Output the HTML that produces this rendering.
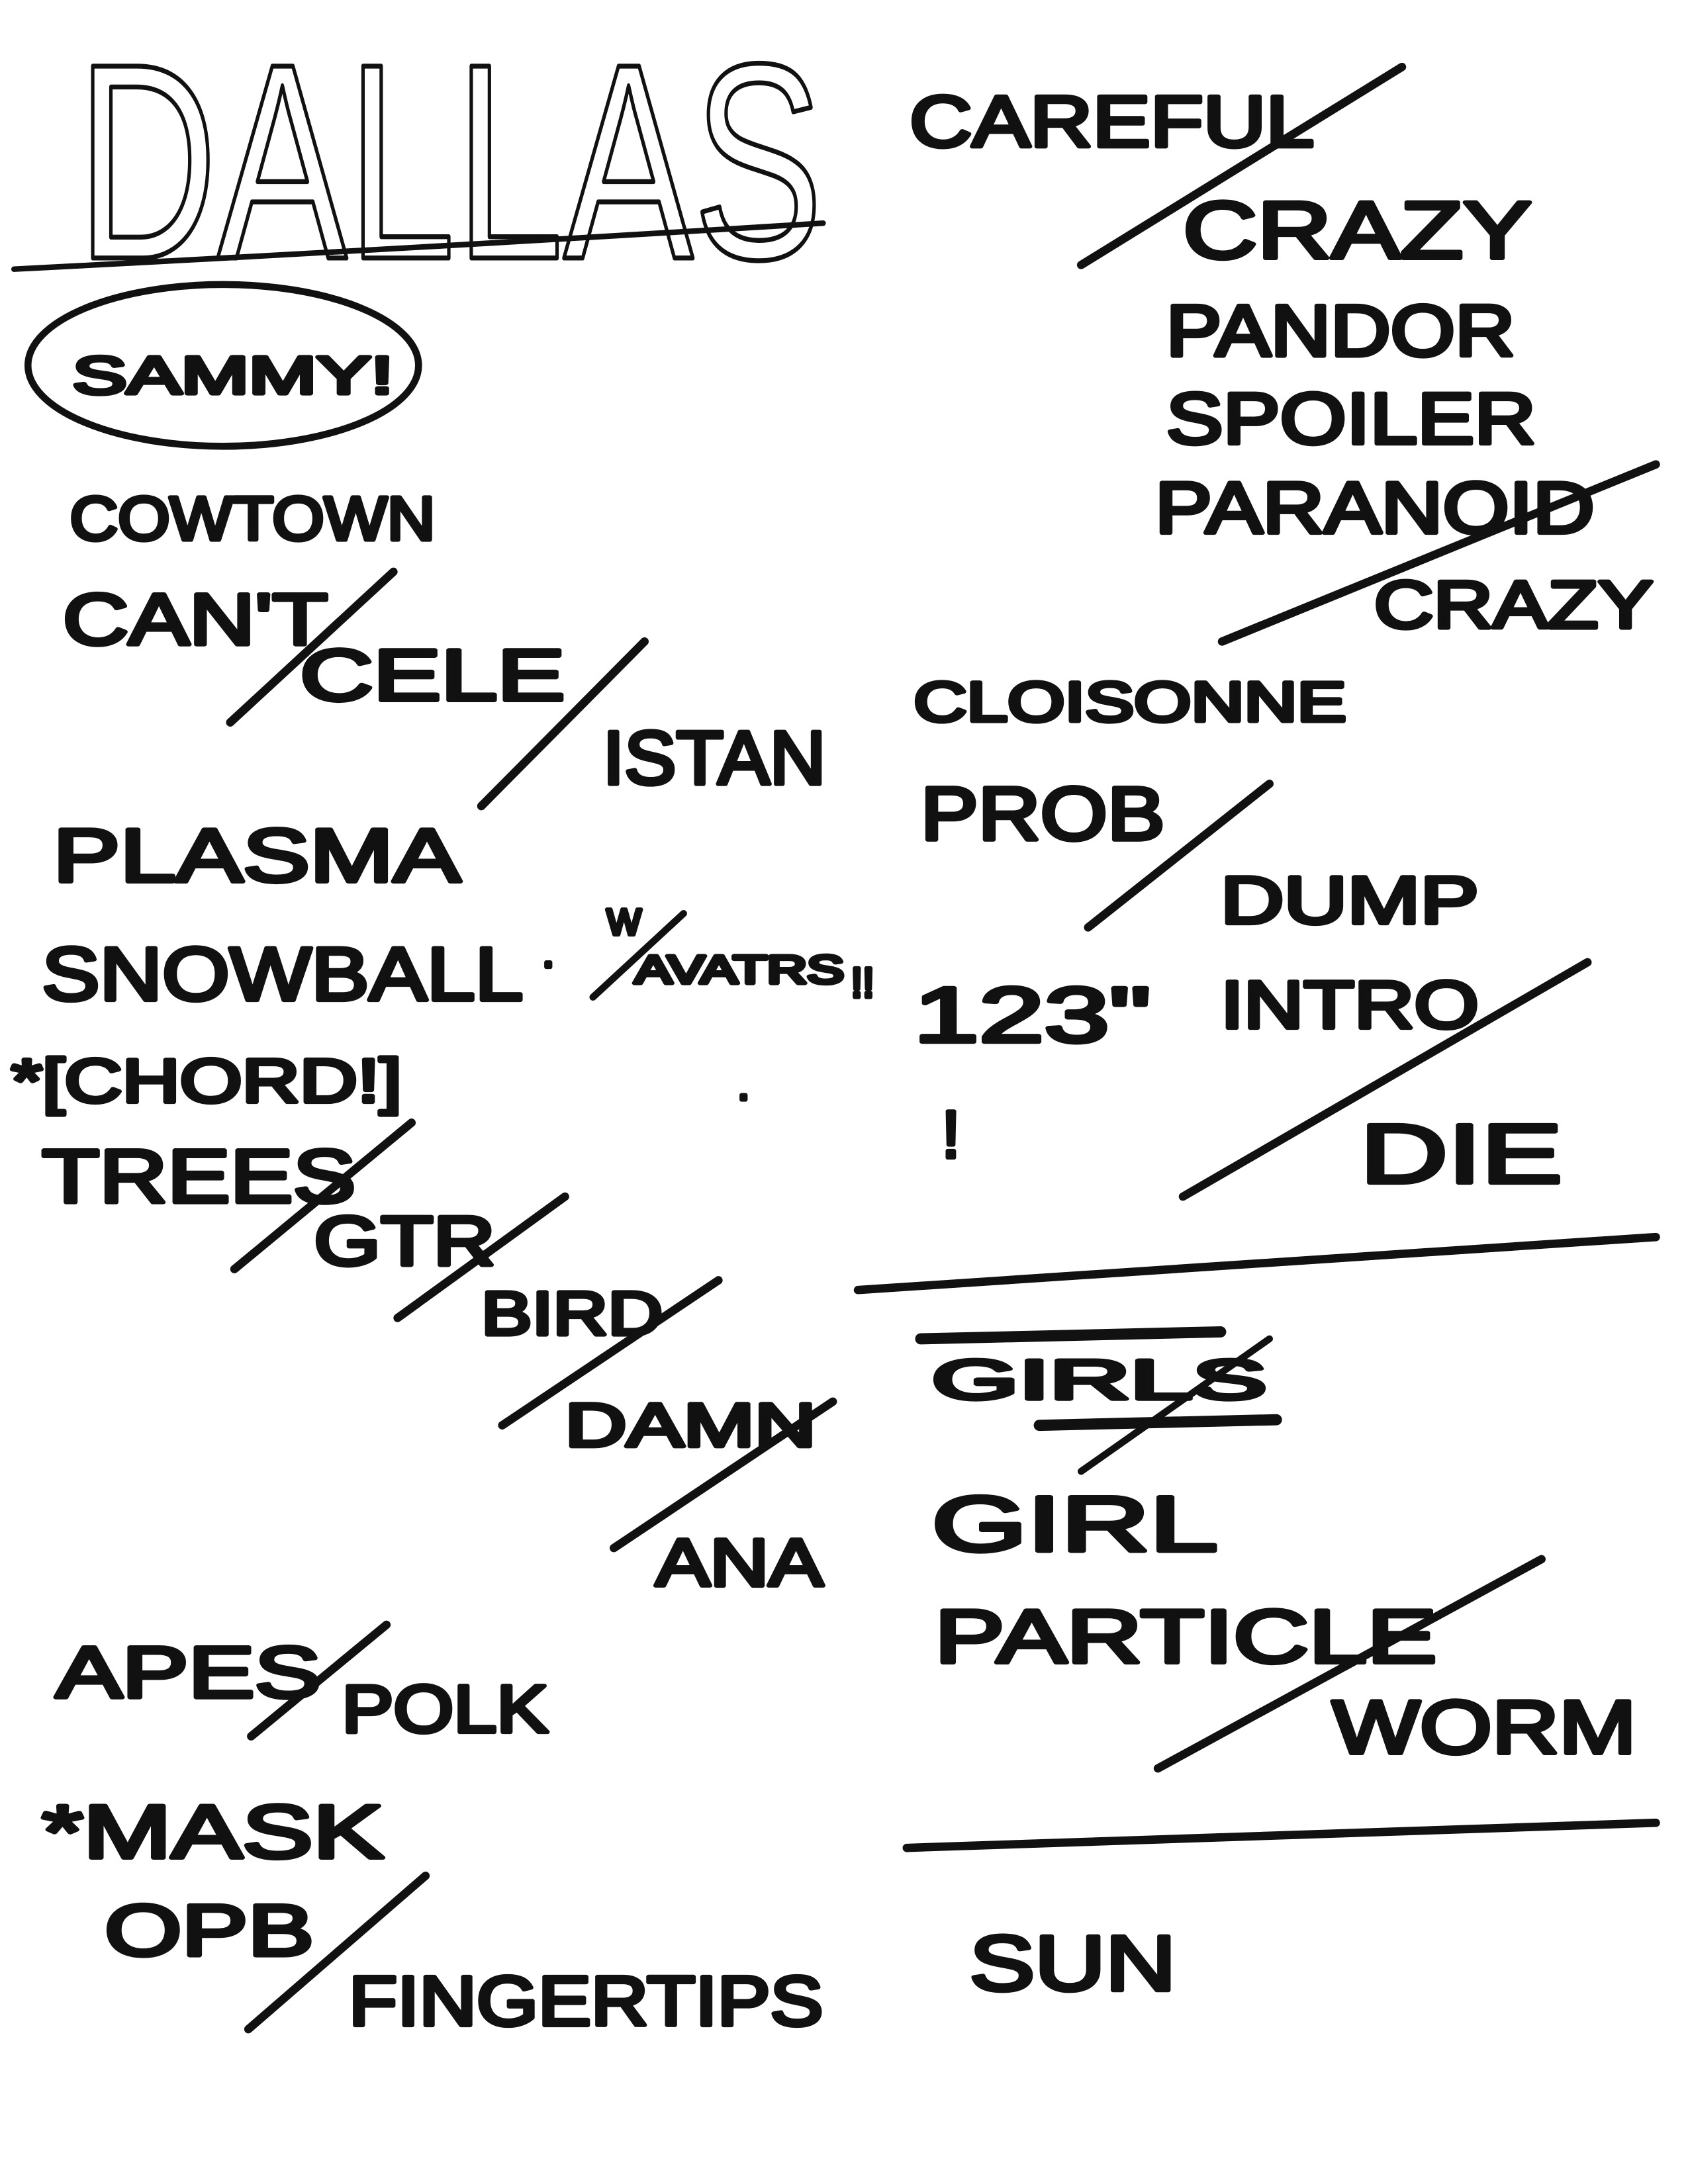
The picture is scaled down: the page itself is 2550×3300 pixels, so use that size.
<!DOCTYPE html>
<html><head><meta charset="utf-8">
<style>
html,body{margin:0;padding:0;background:#fff;}
svg{display:block;}
text{font-family:"Liberation Sans",sans-serif;font-weight:normal;fill:#111;stroke:#111;stroke-width:3;stroke-linejoin:round;}
line,path,ellipse{stroke:#111;stroke-linecap:round;fill:none;}
</style></head>
<body>
<svg width="2550" height="3300" viewBox="0 0 1210 1566" xmlns="http://www.w3.org/2000/svg">
<rect width="1210" height="1566" fill="#fff"/>
<text x="55" y="185" font-size="200" textLength="535" lengthAdjust="spacingAndGlyphs" style="fill:none;stroke-width:3.5">DALLAS</text>
<path d="M10 193 Q300 178 590 160" stroke-width="4"/>
<ellipse cx="160" cy="262" rx="140" ry="58" stroke-width="5"/>
<text x="52" y="282" font-size="38" textLength="230" lengthAdjust="spacingAndGlyphs">SAMMY!</text>

<text x="652" y="105" font-size="52" textLength="290" lengthAdjust="spacingAndGlyphs">CAREFUL</text>
<line x1="775" y1="190" x2="1005" y2="48" stroke-width="6"/>
<text x="848" y="185" font-size="58" textLength="250" lengthAdjust="spacingAndGlyphs">CRAZY</text>
<text x="836" y="255" font-size="52" textLength="250" lengthAdjust="spacingAndGlyphs">PANDOR</text>
<text x="836" y="318" font-size="52" textLength="265" lengthAdjust="spacingAndGlyphs">SPOILER</text>
<text x="828" y="382" font-size="52" textLength="315" lengthAdjust="spacingAndGlyphs">PARANOID</text>
<line x1="876" y1="460" x2="1187" y2="333" stroke-width="6"/>
<text x="985" y="450" font-size="48" textLength="200" lengthAdjust="spacingAndGlyphs">CRAZY</text>

<text x="50" y="387" font-size="44" textLength="262" lengthAdjust="spacingAndGlyphs">COWTOWN</text>
<text x="45" y="462" font-size="52" textLength="190" lengthAdjust="spacingAndGlyphs">CAN'T</text>
<line x1="165" y1="518" x2="282" y2="410" stroke-width="6"/>
<text x="215" y="502" font-size="52" textLength="190" lengthAdjust="spacingAndGlyphs">CELE</text>
<line x1="345" y1="578" x2="462" y2="460" stroke-width="6"/>
<text x="432" y="562" font-size="54" textLength="160" lengthAdjust="spacingAndGlyphs">ISTAN</text>
<text x="655" y="517" font-size="40" textLength="310" lengthAdjust="spacingAndGlyphs">CLOISONNE</text>
<text x="660" y="602" font-size="54" textLength="175" lengthAdjust="spacingAndGlyphs">PROB</text>
<line x1="780" y1="665" x2="910" y2="562" stroke-width="6"/>
<text x="875" y="662" font-size="48" textLength="185" lengthAdjust="spacingAndGlyphs">DUMP</text>

<text x="38" y="632" font-size="54" textLength="292" lengthAdjust="spacingAndGlyphs">PLASMA</text>
<text x="30" y="717" font-size="54" textLength="345" lengthAdjust="spacingAndGlyphs">SNOWBALL</text>
<text x="388" y="700" font-size="30">·</text>
<text x="435" y="670" font-size="26">W</text>
<line x1="425" y1="715" x2="490" y2="655" stroke-width="5"/>
<text x="455" y="705" font-size="28" textLength="150" lengthAdjust="spacingAndGlyphs">AVATRS</text>
<text x="610" y="715" font-size="30">!!</text>
<text x="655" y="747" font-size="56" textLength="170" lengthAdjust="spacingAndGlyphs">123"</text>
<text x="675" y="830" font-size="48">!</text>
<text x="875" y="737" font-size="48" textLength="185" lengthAdjust="spacingAndGlyphs">INTRO</text>
<line x1="848" y1="858" x2="1138" y2="690" stroke-width="6"/>
<text x="975" y="848" font-size="60" textLength="145" lengthAdjust="spacingAndGlyphs">DIE</text>
<text x="528" y="795" font-size="30">·</text>

<text x="8" y="790" font-size="44" textLength="280" lengthAdjust="spacingAndGlyphs">*[CHORD!]</text>
<text x="30" y="862" font-size="54" textLength="225" lengthAdjust="spacingAndGlyphs">TREES</text>
<line x1="168" y1="910" x2="295" y2="805" stroke-width="6"/>
<text x="225" y="907" font-size="50" textLength="130" lengthAdjust="spacingAndGlyphs">GTR</text>
<line x1="285" y1="945" x2="405" y2="858" stroke-width="6"/>
<text x="345" y="957" font-size="44" textLength="130" lengthAdjust="spacingAndGlyphs">BIRD</text>
<line x1="360" y1="1022" x2="515" y2="918" stroke-width="6"/>
<text x="405" y="1037" font-size="44" textLength="180" lengthAdjust="spacingAndGlyphs">DAMN</text>
<line x1="440" y1="1110" x2="597" y2="1005" stroke-width="6"/>
<text x="470" y="1137" font-size="48" textLength="120" lengthAdjust="spacingAndGlyphs">ANA</text>

<path d="M615 925 Q900 905 1187 887" stroke-width="6"/>
<text x="668" y="1003" font-size="40" textLength="240" lengthAdjust="spacingAndGlyphs">GIRLS</text>
<line x1="660" y1="960" x2="875" y2="955" stroke-width="8"/>
<line x1="745" y1="1022" x2="915" y2="1018" stroke-width="8"/>
<line x1="775" y1="1055" x2="910" y2="960" stroke-width="5"/>
<text x="668" y="1112" font-size="56" textLength="205" lengthAdjust="spacingAndGlyphs">GIRL</text>
<text x="670" y="1192" font-size="54" textLength="360" lengthAdjust="spacingAndGlyphs">PARTICLE</text>
<line x1="830" y1="1268" x2="1105" y2="1118" stroke-width="6"/>
<text x="955" y="1257" font-size="54" textLength="218" lengthAdjust="spacingAndGlyphs">WORM</text>
<path d="M650 1325 Q920 1315 1187 1307" stroke-width="6"/>
<text x="695" y="1427" font-size="56" textLength="148" lengthAdjust="spacingAndGlyphs">SUN</text>

<text x="40" y="1217" font-size="52" textLength="190" lengthAdjust="spacingAndGlyphs">APES</text>
<line x1="180" y1="1245" x2="277" y2="1165" stroke-width="6"/>
<text x="245" y="1242" font-size="48" textLength="148" lengthAdjust="spacingAndGlyphs">POLK</text>
<text x="30" y="1332" font-size="54" textLength="245" lengthAdjust="spacingAndGlyphs">*MASK</text>
<text x="75" y="1402" font-size="52" textLength="150" lengthAdjust="spacingAndGlyphs">OPB</text>
<line x1="178" y1="1455" x2="305" y2="1345" stroke-width="6"/>
<text x="250" y="1452" font-size="50" textLength="340" lengthAdjust="spacingAndGlyphs">FINGERTIPS</text>
</svg>
</body></html>
